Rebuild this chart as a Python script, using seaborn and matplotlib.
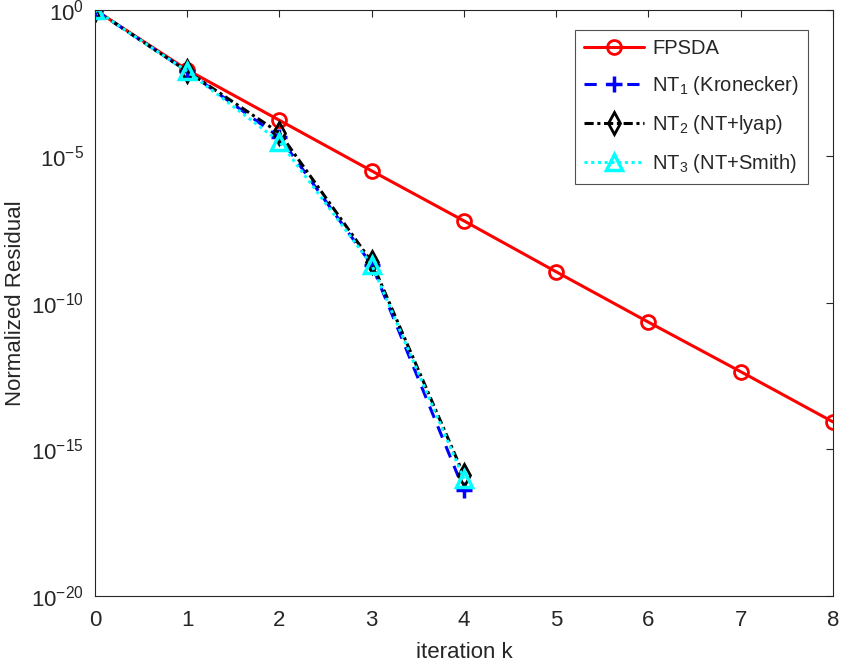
import numpy as np
import pandas as pd
import matplotlib
matplotlib.use("Agg")
import matplotlib.pyplot as plt
import seaborn as sns

k_fp = [0, 1, 2, 3, 4, 5, 6, 7, 8]
fpsda = [1.0, 9e-3, 1.7e-4, 3.2e-6, 6.3e-8, 1.15e-9, 2.2e-11, 4.5e-13, 8.7e-15]
k_nt = [0, 1, 2, 3, 4]
nt1 = [1.0, 8e-3, 4.5e-5, 2.0e-9, 4.0e-17]
nt2 = [1.0, 8e-3, 6.3e-5, 2.5e-9, 1.3e-16]
nt3 = [1.0, 8e-3, 3.2e-5, 2.0e-9, 1.0e-16]

sns.set_theme(style="white")
plt.rcParams['font.family'] = ['Liberation Sans', 'DejaVu Sans']
plt.rcParams['mathtext.fontset'] = 'custom'
plt.rcParams['mathtext.rm'] = 'Liberation Sans'
plt.rcParams['mathtext.it'] = 'Liberation Sans'

fig = plt.figure(figsize=(8.45, 6.63), dpi=100)
ax = fig.add_axes([0.1124, 0.1011, 0.8734, 0.884])

lw = 2.2
sns.lineplot(x=k_fp, y=fpsda, ax=ax, color='#ff0000', lw=lw, marker='o', ms=10,
             mfc='none', mec='#ff0000', mew=2, label='FPSDA')
sns.lineplot(x=k_nt, y=nt1, ax=ax, color='#0000ff', lw=lw, marker='+', ms=11,
             mec='#0000ff', mew=2.5, dashes=(4, 3), label=r'NT$_{\mathregular{1}}$ (Kronecker)')
sns.lineplot(x=k_nt, y=nt2, ax=ax, color='black', lw=lw, marker='d', ms=11,
             mfc='none', mec='black', mew=2, dashes=(3, 1.2, 1, 1.2),
             label=r'NT$_{\mathregular{2}}$ (NT+lyap)')
sns.lineplot(x=k_nt, y=nt3, ax=ax, color='#00ffff', lw=lw, marker='^', ms=11,
             mfc='none', mec='#00ffff', mew=2.5, dashes=(1, 1.2),
             label=r'NT$_{\mathregular{3}}$ (NT+Smith)')

ax.set_yscale('log')
ax.set_xlim(0, 8)
ax.set_ylim(1e-20, 1)
ax.set_yticks([10.0**e for e in range(0, -25, -5)])
ax.set_yticks([10.0**e for e in range(0, -21)], minor=True)
ax.yaxis.set_minor_formatter(matplotlib.ticker.NullFormatter())
ax.set_xticks(range(0, 9))
ax.tick_params(axis='both', which='both', direction='in', top=True, right=True,
               labelsize=16, colors='#262626', length=5, width=0.8)
ax.tick_params(axis='both', which='minor', length=5)
ax.tick_params(axis='x', pad=10)
ax.tick_params(axis='y', pad=8)
for s in ax.spines.values():
    s.set_color('#262626')
    s.set_linewidth(0.8)
ax.set_xlabel('iteration k', fontsize=16, color='#262626', labelpad=8)
ax.set_ylabel('Normalized Residual', fontsize=16, color='#262626', labelpad=4)

leg = ax.legend(loc='upper right', bbox_to_anchor=(0.98, 0.983), fontsize=14.5,
                frameon=True, fancybox=False, edgecolor='#262626',
                handlelength=3.0, labelspacing=0.8, borderpad=0.45,
                handletextpad=0.4)
leg.get_frame().set_linewidth(0.8)

fig.savefig('out.png', dpi=100)
